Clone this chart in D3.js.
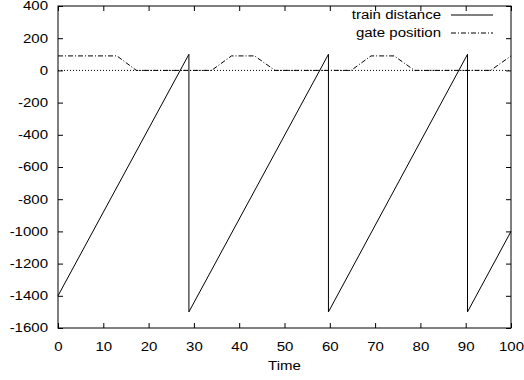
<!DOCTYPE html>
<html>
<head>
<meta charset="utf-8">
<script src="https://cdn.jsdelivr.net/npm/d3@7"></script>
<style>
  body { margin: 0; background: #fff; }
  svg { font-family: "Liberation Sans", Arial, sans-serif; }
</style>
</head>
<body>
<div id="chart"></div>
<script>
// data
const trainTime = [0, 28.9, 28.9, 59.7, 59.7, 90.4, 90.4, 100];
const trainDistance = [-1400, 100, -1500, 100, -1500, 100, -1500, -1000];
const gateTime = [0, 13, 17.3, 33.9, 38.3, 43.4, 47.9, 64.7, 69.1, 74.2, 78.7, 95.5, 100];
const gatePosition = [90, 90, 0, 0, 90, 90, 0, 0, 90, 90, 0, 0, 90];
const xTicks = [0, 10, 20, 30, 40, 50, 60, 70, 80, 90, 100];
const yTicks = [-1600, -1400, -1200, -1000, -800, -600, -400, -200, 0, 200, 400];
const seriesNames = ["train distance", "gate position"];

const width = 524, height = 380;
const margin = { top: 6, right: 13, bottom: 52, left: 58 };
const w = width - margin.left - margin.right;
const h = height - margin.top - margin.bottom;
const fontSize = "12px";
const stretch = 1.25; // the reference text is wide, stretch it sideways

const svg = d3.select("#chart").append("svg")
    .attr("width", width)
    .attr("height", height);

const g = svg.append("g")
    .attr("transform", `translate(${margin.left},${margin.top})`);

const x = d3.scaleLinear().domain([0, 100]).range([0, w]);
const y = d3.scaleLinear().domain([-1600, 400]).range([h, 0]);
const fmt = d => String(d);

// axes, ticks pointing inward like gnuplot
const styleAxis = sel => {
    sel.select(".domain").remove();
    sel.selectAll("line").attr("stroke", "#000");
    sel.selectAll("text").attr("fill", "#000").style("font-size", fontSize);
};

g.append("g")
    .attr("transform", `translate(0,${h})`)
    .call(d3.axisBottom(x).tickValues(xTicks).tickSize(-5).tickPadding(14).tickFormat(fmt))
    .call(styleAxis);

g.append("g")
    .call(d3.axisLeft(y).tickValues(yTicks).tickSize(-5).tickPadding(10).tickFormat(fmt))
    .call(styleAxis);

g.append("g")
    .call(d3.axisTop(x).tickValues(xTicks).tickSize(-5).tickFormat(""))
    .call(styleAxis);

g.append("g")
    .attr("transform", `translate(${w},0)`)
    .call(d3.axisRight(y).tickValues(yTicks).tickSize(-5).tickFormat(""))
    .call(styleAxis);

// zero axis, dotted
g.append("line")
    .attr("x1", 0).attr("x2", w)
    .attr("y1", y(0)).attr("y2", y(0))
    .attr("stroke", "#000")
    .attr("stroke-width", 1)
    .attr("stroke-dasharray", "1,2");

const line = d3.line()
    .x(d => x(d[0]))
    .y(d => y(d[1]));

const train = trainTime.map((t, i) => [t, trainDistance[i]]);
const gate = gateTime.map((t, i) => [t, gatePosition[i]]);

g.append("path")
    .datum(train)
    .attr("fill", "none")
    .attr("stroke", "#000")
    .attr("stroke-width", 1)
    .attr("d", line);

g.append("path")
    .datum(gate)
    .attr("fill", "none")
    .attr("stroke", "#000")
    .attr("stroke-width", 1)
    .attr("stroke-dasharray", "5,2,1,2")
    .attr("d", line);

// border
g.append("rect")
    .attr("width", w)
    .attr("height", h)
    .attr("fill", "none")
    .attr("stroke", "#000")
    .attr("stroke-width", 1);

// legend
const legend = svg.append("g");
const dashes = [null, "5,2,1,2"];
seriesNames.forEach((name, i) => {
    const ly = 15 + i * 18;
    legend.append("text")
        .attr("x", 441)
        .attr("y", ly)
        .attr("dy", "0.35em")
        .attr("text-anchor", "end")
        .style("font-size", fontSize)
        .text(name);
    legend.append("line")
        .attr("x1", 451).attr("x2", 493)
        .attr("y1", ly).attr("y2", ly)
        .attr("stroke", "#000")
        .attr("stroke-width", 1)
        .attr("stroke-dasharray", dashes[i]);
});

svg.append("text")
    .attr("x", margin.left + w / 2)
    .attr("y", 366)
    .attr("dy", "0.35em")
    .attr("text-anchor", "middle")
    .style("font-size", fontSize)
    .text("Time");

// widen every label
svg.selectAll("text").each(function () {
    const len = this.getComputedTextLength();
    if (len > 0) {
        d3.select(this)
            .attr("textLength", len * stretch)
            .attr("lengthAdjust", "spacingAndGlyphs");
    }
});
</script>
</body>
</html>
